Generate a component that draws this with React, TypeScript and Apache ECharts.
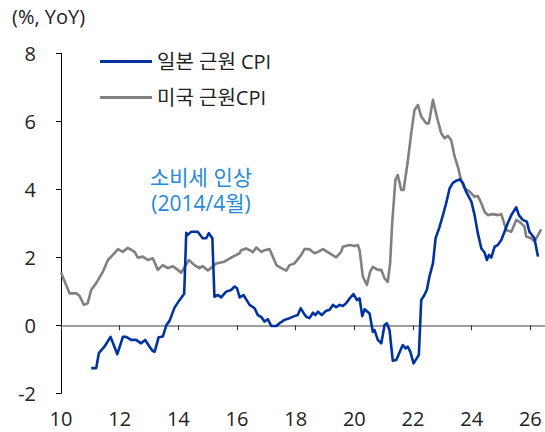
import React, { useEffect, useRef } from "react";
import * as echarts from "echarts";

// x = year (two-digit, fractional), y = % YoY
const japanCoreCPI: [number, number][] = [
  [11.03, -1.26], [11.2, -1.26], [11.29, -0.82], [11.48, -0.63], [11.69, -0.34], [11.92, -0.85],
  [12.11, -0.34], [12.22, -0.34], [12.39, -0.43], [12.56, -0.43], [12.73, -0.53], [12.87, -0.43],
  [13.02, -0.63], [13.13, -0.76], [13.19, -0.78], [13.33, -0.35], [13.47, -0.33], [13.59, 0.0],
  [13.7, 0.13], [13.87, 0.52], [14.04, 0.74], [14.2, 0.93], [14.27, 2.72], [14.32, 2.66],
  [14.44, 2.75], [14.66, 2.75], [14.83, 2.56], [14.95, 2.56], [15.04, 2.71], [15.16, 2.56],
  [15.23, 0.84], [15.35, 0.89], [15.46, 0.82], [15.63, 0.99], [15.8, 1.04], [15.92, 1.14],
  [16.0, 1.09], [16.09, 0.82], [16.22, 0.89], [16.43, 0.6], [16.6, 0.5], [16.71, 0.3],
  [16.83, 0.24], [16.94, 0.11], [17.05, 0.18], [17.17, -0.02], [17.34, -0.02], [17.45, 0.06],
  [17.62, 0.16], [17.79, 0.21], [17.96, 0.27], [18.07, 0.3], [18.17, 0.5], [18.28, 0.35],
  [18.36, 0.25], [18.47, 0.21], [18.59, 0.37], [18.67, 0.3], [18.76, 0.4], [18.89, 0.3],
  [19.04, 0.43], [19.15, 0.45], [19.27, 0.6], [19.38, 0.53], [19.5, 0.6], [19.61, 0.57],
  [19.72, 0.65], [19.84, 0.79], [19.97, 0.92], [20.09, 0.74], [20.18, 0.79], [20.27, 0.27],
  [20.35, 0.47], [20.52, 0.35], [20.63, -0.19], [20.69, -0.14], [20.8, -0.43], [20.92, -0.53],
  [21.03, 0.01], [21.11, 0.06], [21.2, -0.14], [21.31, -1.04], [21.43, -1.02], [21.65, -0.58],
  [21.75, -0.68], [21.82, -0.63], [21.91, -0.78], [22.02, -1.12], [22.2, -0.87], [22.28, 0.74],
  [22.39, 0.89], [22.47, 1.04], [22.56, 1.43], [22.68, 1.82], [22.77, 2.56], [22.9, 2.88],
  [23.02, 3.24], [23.13, 3.59], [23.25, 4.03], [23.36, 4.19], [23.47, 4.25], [23.59, 4.29],
  [23.7, 4.19], [23.81, 3.93], [23.99, 3.64], [24.1, 3.24], [24.21, 2.71], [24.33, 2.26],
  [24.44, 2.14], [24.52, 1.92], [24.59, 2.07], [24.67, 1.99], [24.78, 2.31], [24.89, 2.36],
  [25.01, 2.51], [25.12, 2.75], [25.23, 3.0], [25.35, 3.24], [25.52, 3.47], [25.61, 3.24],
  [25.74, 3.1], [25.88, 3.05], [25.97, 2.75], [26.14, 2.56], [26.26, 2.02],
];

const usCoreCPI: [number, number][] = [
  [10.0, 1.55], [10.29, 0.94], [10.52, 0.94], [10.63, 0.87], [10.78, 0.6], [10.91, 0.65],
  [11.03, 1.04], [11.2, 1.24], [11.43, 1.58], [11.6, 1.92], [11.77, 2.07], [11.94, 2.24],
  [12.11, 2.16], [12.28, 2.28], [12.51, 2.16], [12.62, 1.99], [12.79, 2.02], [12.96, 1.92],
  [13.13, 1.97], [13.3, 1.63], [13.47, 1.77], [13.64, 1.68], [13.81, 1.74], [13.98, 1.63],
  [14.1, 1.55], [14.36, 1.92], [14.55, 1.77], [14.72, 1.68], [14.83, 1.74], [15.01, 1.61],
  [15.29, 1.82], [15.57, 1.87], [15.86, 2.02], [16.09, 2.12], [16.14, 2.21], [16.31, 2.26],
  [16.43, 2.21], [16.54, 2.15], [16.66, 2.29], [16.83, 2.16], [16.94, 2.21], [17.11, 2.24],
  [17.22, 2.02], [17.34, 1.77], [17.51, 1.68], [17.68, 1.61], [17.79, 1.77], [17.96, 1.82],
  [18.07, 1.94], [18.19, 2.07], [18.3, 2.24], [18.47, 2.24], [18.64, 2.12], [18.76, 2.16],
  [18.93, 2.24], [19.15, 2.12], [19.38, 2.0], [19.55, 2.16], [19.61, 2.31], [19.84, 2.36],
  [20.01, 2.33], [20.12, 2.36], [20.18, 2.21], [20.29, 1.43], [20.43, 1.19], [20.54, 1.58],
  [20.63, 1.72], [20.8, 1.63], [20.92, 1.63], [21.03, 1.38], [21.14, 1.28], [21.22, 1.82],
  [21.29, 3.0], [21.4, 4.27], [21.48, 4.42], [21.6, 3.98], [21.68, 3.98], [21.82, 4.81],
  [21.94, 5.65], [22.05, 6.33], [22.17, 6.48], [22.28, 6.14], [22.45, 5.94], [22.54, 5.94],
  [22.68, 6.63], [22.81, 6.14], [22.96, 5.65], [23.08, 5.5], [23.19, 5.57], [23.3, 5.45],
  [23.42, 4.96], [23.53, 4.66], [23.64, 4.27], [23.76, 4.03], [23.93, 3.93], [24.1, 3.78],
  [24.21, 3.8], [24.33, 3.59], [24.44, 3.34], [24.55, 3.24], [24.72, 3.27], [24.89, 3.24],
  [25.01, 3.27], [25.09, 3.05], [25.18, 2.8], [25.35, 2.75], [25.52, 3.1], [25.69, 3.0],
  [25.8, 2.9], [25.86, 2.61], [26.03, 2.56], [26.14, 2.46], [26.37, 2.82],
];

const xTickValues = [10, 12, 14, 16, 18, 20, 22, 24, 26];
const seriesNames = ["일본 근원 CPI", "미국 근원CPI"];
const unitLabel = "(%, YoY)";
const annotation = "소비세 인상\n(2014/4월)";

const FONT = "'Open Sans', 'Noto Sans CJK KR', sans-serif";
const BLUE = "#0033a0";
const GRAY = "#808080";

export default function App() {
  const ref = useRef<HTMLDivElement>(null);
  useEffect(() => {
    if (!ref.current) return;
    const chart = echarts.init(ref.current, undefined, { renderer: "svg" });
    chart.setOption({
      animation: false,
      textStyle: { fontFamily: FONT },
      grid: { left: 61, right: 0, top: 53.3, bottom: 38.7, containLabel: false },
      legend: {
        orient: "vertical",
        left: 100,
        top: 51.5,
        padding: 0,
        itemWidth: 52,
        itemHeight: 3,
        itemGap: 16,
        icon: "rect",
        textStyle: { fontSize: 20, color: "#222", fontFamily: FONT },
        data: seriesNames,
      },
      xAxis: [
        {
          type: "value",
          min: 10,
          max: 26.5,
          interval: 2,
          position: "bottom",
          axisLine: { show: false, onZero: false },
          axisTick: { show: false },
          splitLine: { show: false },
          axisLabel: {
            customValues: xTickValues,
            fontSize: 20,
            color: "#222",
            margin: 15,
            fontFamily: FONT,
          },
        },
        {
          type: "value",
          min: 10,
          max: 26.5,
          interval: 2,
          position: "bottom",
          axisLine: { show: true, onZero: true, lineStyle: { color: "#7f7f7f", width: 1.5 } },
          axisTick: { show: true, length: 5, customValues: xTickValues, lineStyle: { color: "#333", width: 1 } },
          axisLabel: { show: false },
          splitLine: { show: false },
        },
      ],
      yAxis: {
        type: "value",
        min: -2,
        max: 8,
        interval: 2,
        axisLine: { show: true, onZero: false, lineStyle: { color: "#000", width: 1 } },
        axisTick: { show: true, length: 5, lineStyle: { color: "#000" } },
        splitLine: { show: false },
        axisLabel: { fontSize: 20, color: "#222", margin: 25, fontFamily: FONT },
      },
      graphic: [
        {
          type: "text",
          left: 12,
          top: 6,
          style: { text: unitLabel, fontSize: 20, fill: "#222", fontFamily: FONT },
        },
        {
          type: "text",
          x: 201,
          y: 164,
          style: {
            text: annotation,
            fontSize: 21,
            lineHeight: 26,
            fill: "#258ad6",
            align: "center",
            fontFamily: FONT,
          },
        },
      ],
      series: [
        {
          name: seriesNames[0],
          type: "line",
          xAxisIndex: 1,
          data: japanCoreCPI,
          showSymbol: false,
          symbol: "none",
          lineStyle: { color: BLUE, width: 2.6, join: "round" },
          itemStyle: { color: BLUE },
          z: 3,
        },
        {
          name: seriesNames[1],
          type: "line",
          xAxisIndex: 1,
          data: usCoreCPI,
          showSymbol: false,
          symbol: "none",
          lineStyle: { color: GRAY, width: 2.6, join: "round" },
          itemStyle: { color: GRAY },
          z: 2,
        },
      ],
    });
    return () => chart.dispose();
  }, []);
  return (
    <div
      ref={ref}
      style={{ position: "absolute", left: 0, top: 0, width: 545, height: 432, background: "#fff" }}
    />
  );
}
